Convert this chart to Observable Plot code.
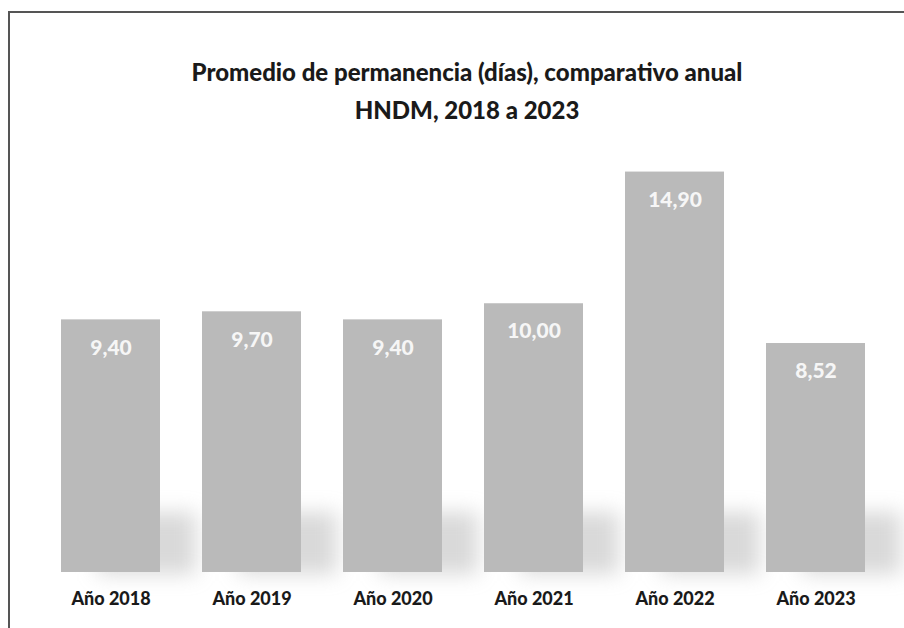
<!DOCTYPE html>
<html>
<head>
<meta charset="utf-8">
<script src="https://cdn.jsdelivr.net/npm/d3@7"></script>
<script src="https://cdn.jsdelivr.net/npm/@observablehq/plot@0.6"></script>
<style>
  html, body { margin: 0; padding: 0; background: #fff; }
  body { width: 904px; height: 628px; overflow: hidden; position: relative; font-family: Lato, "Open Sans", sans-serif; }
  #frame { position: absolute; left: 8px; top: 11px; width: 920px; height: 640px; border-top: 2px solid #555; border-left: 2px solid #555; box-sizing: border-box; }
  #title { position: absolute; left: 0; top: 53px; width: 934px; text-align: center; font-weight: 900; font-size: 24px; line-height: 38px; color: #1a1a1a; }
  #chart { position: absolute; left: 0; top: 130px; }
</style>
</head>
<body>
<div id="frame"></div>
<div id="title">Promedio de permanencia (días), comparativo anual<br>HNDM, 2018 a 2023</div>
<div id="chart"></div>
<script>
const categories = ["Año 2018", "Año 2019", "Año 2020", "Año 2021", "Año 2022", "Año 2023"];
const values = [9.40, 9.70, 9.40, 10.00, 14.90, 8.52];
const valueLabels = ["9,40", "9,70", "9,40", "10,00", "14,90", "8,52"];

const data = categories.map((c, i) => ({cat: c, value: values[i], label: valueLabels[i]}));

const chart = Plot.plot({
  width: 904,
  height: 498,
  marginLeft: 38,
  marginRight: 16,
  marginTop: 12,
  marginBottom: 56,
  style: {background: "transparent", fontFamily: "Lato, 'Open Sans', sans-serif"},
  x: {domain: categories, paddingInner: 0.3, paddingOuter: 0.15, label: null, tickSize: 0, tickPadding: 20},
  y: {domain: [0, 16], axis: null},
  marks: [
    Plot.barY(data, {x: "cat", y1: 0, y2: 2.3, fill: "#9a9a9a", fillOpacity: 0.38, dx: 36, dy: 2}),
    Plot.barY(data, {x: "cat", y: "value", fill: "#bababa"}),
    Plot.text(data, {x: "cat", y: "value", text: "label", dy: 28, fill: "#f6f6f6", fontSize: 21, fontWeight: 900}),
    Plot.axisX({tickSize: 0, tickPadding: 20, fontSize: 18, fontWeight: 900, color: "#1a1a1a", label: null})
  ]
});
document.getElementById("chart").appendChild(chart);
const groups = chart.querySelectorAll('g[aria-label="bar"]');
if (groups.length) { groups[0].setAttribute("style", "filter: blur(10px)"); }
chart.querySelectorAll('g[aria-label="x-axis tick label"] text, g[aria-label="x-axis tick label"]').forEach(t => { t.style.fontWeight = 900; t.style.fontSize = "18px"; t.style.fill = "#1a1a1a"; });
</script>
</body>
</html>
